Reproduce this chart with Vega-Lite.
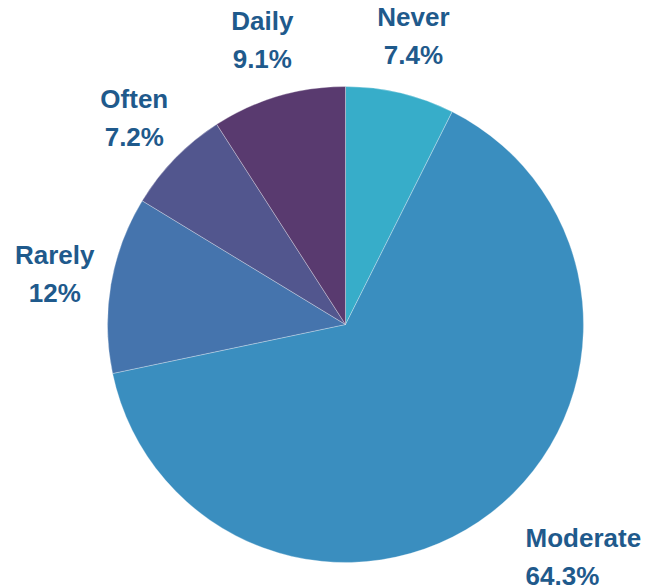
{
  "$schema": "https://vega.github.io/schema/vega-lite/v6.json",
  "autosize": {"type": "none"},
  "width": 635,
  "height": 527,
  "padding": {"left": 28, "top": 61, "right": 0, "bottom": 0},
  "background": "white",
  "view": {"stroke": null},
  "data": {
    "values": [
      {"cat": "Never", "pct": 7.4, "label": "7.4%", "ord": 1},
      {"cat": "Moderate", "pct": 64.3, "label": "64.3%", "ord": 2},
      {"cat": "Rarely", "pct": 12, "label": "12%", "ord": 3},
      {"cat": "Often", "pct": 7.2, "label": "7.2%", "ord": 4},
      {"cat": "Daily", "pct": 9.1, "label": "9.1%", "ord": 5}
    ]
  },
  "encoding": {
    "theta": {"field": "pct", "type": "quantitative", "stack": true},
    "order": {"field": "ord", "type": "quantitative"}
  },
  "layer": [
    {
      "mark": {"type": "arc", "outerRadius": 238, "stroke": "#ffffff", "strokeWidth": 0.3},
      "encoding": {
        "color": {
          "field": "cat",
          "type": "nominal",
          "scale": {
            "domain": ["Never", "Moderate", "Rarely", "Often", "Daily"],
            "range": ["#37ADC9", "#3A8EBF", "#4574AD", "#52568E", "#593A6F"]
          },
          "legend": null
        }
      }
    },
    {
      "transform": [{"calculate": "[datum.cat, datum.label]", "as": "txt"}],
      "mark": {"type": "text", "radius": 295, "dy": -19, "font": "Liberation Sans", "fontWeight": "bold", "fontSize": 26, "color": "#1F5A8C", "lineHeight": 38, "baseline": "middle", "align": {"expr": "datum.cat === 'Moderate' ? 'left' : 'center'"}},
      "encoding": {"text": {"field": "txt"}}
    }
  ]
}
